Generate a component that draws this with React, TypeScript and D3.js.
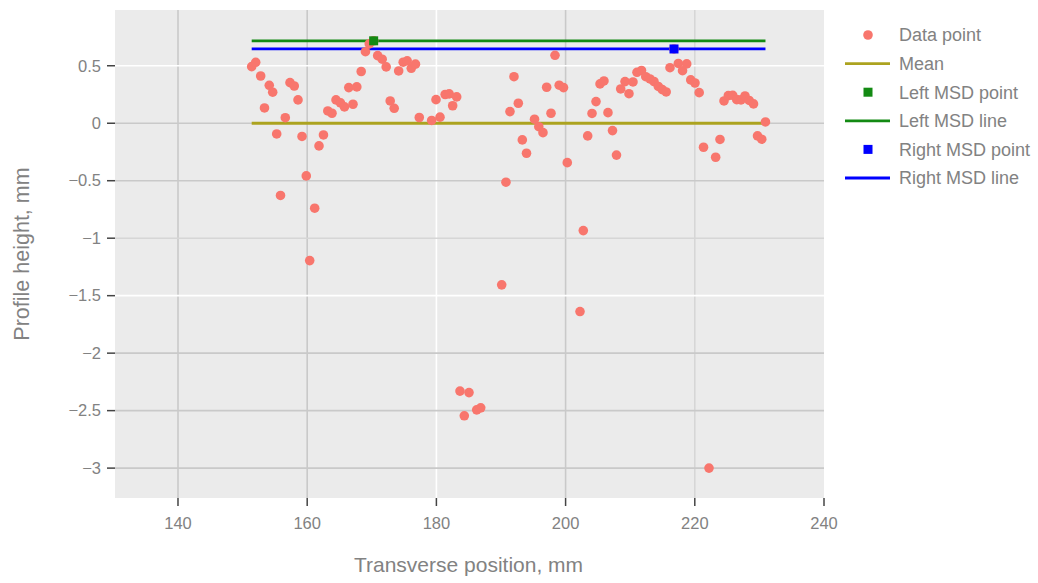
import React from 'react';
import * as d3 from 'd3';

// Profile points (transverse position mm, height mm)
const posX = [
  151.41, 152.03, 152.8, 153.39, 154.13, 154.66, 155.28, 155.87, 156.61, 157.34,
  158.0, 158.58, 159.2, 159.86, 160.39, 161.16, 161.83, 162.52, 163.19, 163.84,
  164.46, 165.15, 165.77, 166.44, 167.09, 167.68, 168.36, 169.02, 169.61, 170.29,
  170.91, 171.61, 172.23, 172.85, 173.47, 174.16, 174.86, 175.48, 176.11, 176.76,
  177.35, 179.27, 179.94, 180.56, 181.36, 181.98, 182.52, 183.14, 183.65, 184.32,
  185.05, 186.24, 186.86, 190.11, 190.77, 191.39, 192.01, 192.68, 193.3, 193.95,
  195.19, 195.85, 196.5, 197.07, 197.74, 198.36, 199.01, 199.68, 200.26, 202.23,
  202.74, 203.42, 204.09, 204.71, 205.33, 205.94, 206.56, 207.26, 207.88, 208.53,
  209.2, 209.81, 210.43, 211.05, 211.75, 212.41, 213.07, 213.68, 214.35, 214.97,
  215.57, 216.16, 216.78, 217.45, 218.1, 218.75, 219.37, 220.03, 220.68, 221.35,
  222.2, 223.23, 223.9, 224.52, 225.19, 225.87, 226.49, 227.15, 227.77, 228.42,
  229.09, 229.71, 230.36, 230.94,
];
const heights = [
  0.492, 0.53, 0.411, 0.133, 0.33, 0.27, -0.093, -0.628, 0.048, 0.353,
  0.324, 0.203, -0.115, -0.458, -1.195, -0.739, -0.197, -0.102, 0.107, 0.087,
  0.203, 0.177, 0.142, 0.31, 0.165, 0.316, 0.45, 0.622, 0.69, 0.717,
  0.588, 0.557, 0.49, 0.194, 0.13, 0.455, 0.531, 0.543, 0.478, 0.514,
  0.05, 0.024, 0.205, 0.053, 0.25, 0.255, 0.152, 0.229, -2.33, -2.545,
  -2.343, -2.493, -2.476, -1.406, -0.513, 0.101, 0.405, 0.174, -0.145, -0.261,
  0.035, -0.03, -0.082, 0.313, 0.087, 0.591, 0.331, 0.31, -0.343, -1.638,
  -0.934, -0.11, 0.085, 0.188, 0.342, 0.368, 0.092, -0.064, -0.277, 0.298,
  0.362, 0.257, 0.359, 0.443, 0.459, 0.405, 0.385, 0.363, 0.32, 0.292,
  0.272, 0.483, 0.646, 0.52, 0.457, 0.516, 0.377, 0.35, 0.266, -0.209,
  -3.0, -0.296, -0.141, 0.194, 0.24, 0.243, 0.205, 0.203, 0.237, 0.198,
  0.168, -0.11, -0.139, 0.011,
];

const meanLevel = 0;
const leftMsd = { x: 170.29, y: 0.717 };
const rightMsd = { x: 216.78, y: 0.646 };

const xTicks = [140, 160, 180, 200, 220, 240];
const yTicks = [0.5, 0, -0.5, -1, -1.5, -2, -2.5, -3];

const legendLabels = [
  'Data point',
  'Mean',
  'Left MSD point',
  'Left MSD line',
  'Right MSD point',
  'Right MSD line',
];

const C_POINT = '#f8766d';
const C_MEAN = '#aca31f';
const C_LEFT = '#138a13';
const C_RIGHT = '#0000ff';
const C_TEXT = '#828282';

// grid lines in the picture are not all the same shade
const gridShade = (v: number, axis: 'x' | 'y') => {
  if (axis === 'x') {
    if (v === 180) return '#ffffff';
    if (v === 220) return '#d6d6d6';
    return '#c9c9c9';
  }
  if (v === 0.5 || v === -1.5) return '#ffffff';
  if (v === -1) return '#d6d6d6';
  return '#c9c9c9';
};

const fmt = (v: number) => (v < 0 ? '\u2212' + String(-v) : String(v));

export default function App() {
  const left = 115;
  const right = 824;
  const top = 10;
  const bottom = 498;

  const x = d3.scaleLinear().domain([130.25, 240]).range([left, right]);
  const y = d3.scaleLinear().domain([-3.26, 0.985]).range([bottom, top]);

  const xMin = d3.min(posX) as number;
  const xMax = d3.max(posX) as number;
  const font = '"Liberation Sans", Arial, Helvetica, sans-serif';

  const legendY = (i: number) => 35 + i * 28.6;

  return (
    <svg
      width={1038}
      height={583}
      style={{ position: 'absolute', left: 0, top: 0, background: '#fff' }}
      fontFamily={font}
    >
      <rect x={left} y={top} width={right - left} height={bottom - top} fill="#ebebeb" />

      {/* grid */}
      {xTicks.filter((t) => t < 240).map((t) => (
        <line key={'gx' + t} x1={x(t)} x2={x(t)} y1={top} y2={bottom}
          stroke={gridShade(t, 'x')} strokeWidth={1.6} />
      ))}
      {yTicks.map((t) => (
        <line key={'gy' + t} x1={left} x2={right} y1={y(t)} y2={y(t)}
          stroke={gridShade(t, 'y')} strokeWidth={1.6} />
      ))}

      {/* reference lines */}
      <line x1={x(xMin)} x2={x(xMax)} y1={y(meanLevel)} y2={y(meanLevel)} stroke={C_MEAN} strokeWidth={2.8} />
      <line x1={x(xMin)} x2={x(xMax)} y1={y(leftMsd.y)} y2={y(leftMsd.y)} stroke={C_LEFT} strokeWidth={2.8} />
      <line x1={x(xMin)} x2={x(xMax)} y1={y(rightMsd.y)} y2={y(rightMsd.y)} stroke={C_RIGHT} strokeWidth={2.8} />

      {/* data points */}
      {posX.map((px, i) => (
        <circle key={'p' + i} cx={x(px)} cy={y(heights[i])} r={4.8} fill={C_POINT} />
      ))}

      {/* MSD points */}
      <rect x={x(leftMsd.x) - 4.5} y={y(leftMsd.y) - 4.5} width={9} height={9} fill={C_LEFT} />
      <rect x={x(rightMsd.x) - 4.5} y={y(rightMsd.y) - 4.5} width={9} height={9} fill={C_RIGHT} />

      {/* axes ticks + labels */}
      {yTicks.map((t) => (
        <g key={'ty' + t}>
          <line x1={107} x2={115} y1={y(t)} y2={y(t)} stroke="#444" strokeWidth={1.5} />
          <text x={101} y={y(t)} dy="0.35em" textAnchor="end" fontSize={16.5} fill={C_TEXT}>{fmt(t)}</text>
        </g>
      ))}
      {xTicks.map((t) => (
        <g key={'tx' + t}>
          <line x1={x(t)} x2={x(t)} y1={bottom} y2={bottom + 8} stroke="#444" strokeWidth={1.5} />
          <text x={x(t)} y={529} textAnchor="middle" fontSize={16.5} fill={C_TEXT}>{fmt(t)}</text>
        </g>
      ))}

      <text x={(left + right) / 2 - 1} y={572} textAnchor="middle" fontSize={21} fill={C_TEXT}>
        Transverse position, mm
      </text>
      <text transform={`translate(29,${(top + bottom) / 2}) rotate(-90)`} textAnchor="middle" fontSize={21.5} fill={C_TEXT}>
        Profile height, mm
      </text>

      {/* legend */}
      <circle cx={868} cy={legendY(0)} r={4.8} fill={C_POINT} />
      <line x1={845} x2={890} y1={legendY(1)} y2={legendY(1)} stroke={C_MEAN} strokeWidth={2.8} />
      <rect x={863.5} y={legendY(2) - 4.5} width={9} height={9} fill={C_LEFT} />
      <line x1={845} x2={890} y1={legendY(3)} y2={legendY(3)} stroke={C_LEFT} strokeWidth={2.8} />
      <rect x={863.5} y={legendY(4) - 4.5} width={9} height={9} fill={C_RIGHT} />
      <line x1={845} x2={890} y1={legendY(5)} y2={legendY(5)} stroke={C_RIGHT} strokeWidth={2.8} />
      {legendLabels.map((l, i) => (
        <text key={l} x={899} y={legendY(i)} dy="0.35em" fontSize={18} fill={C_TEXT}>{l}</text>
      ))}
    </svg>
  );
}
